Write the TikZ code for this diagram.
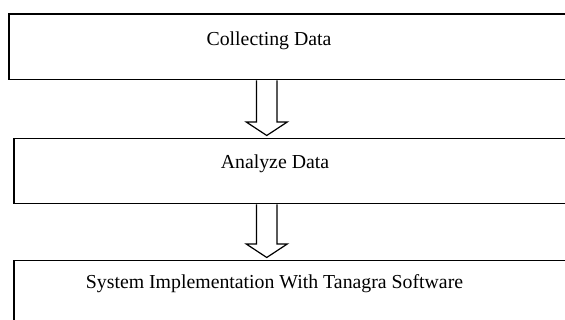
\documentclass[tikz,border=0pt]{standalone}
\usepackage{fontspec}
\setmainfont{Liberation Serif}
\usetikzlibrary{calc}
\tikzset{
  stagebox/.style={draw=black, line width=1.5pt, rectangle, inner sep=0pt, anchor=north west},
  stagetext/.style={font=\fontsize{19.8}{24}\selectfont, inner sep=0pt, anchor=center},
  arrowline/.style={draw=black, line width=1.2pt, fill=white, line join=miter}
}
\newcommand\blockarrow[3]{%
  \draw[arrowline] ($(#2.south -| #1)+(-10.25,0)$) -- ($(#3.north -| #1)+(-10.25,-16)$)
    -- ++(-10.25,0) -- ($(#3.north -| #1)+(0,-2.5)$) -- ($(#3.north -| #1)+(20.5,-16)$)
    -- ++(-10.25,0) -- ($(#2.south -| #1)+(10.25,0)$);}
\begin{document}
\begin{tikzpicture}[x=1pt, y=-1pt]
\useasboundingbox (0,0) rectangle (565,320);
\clip (0,0) rectangle (565,320);
\node[stagebox, minimum width=580pt, minimum height=65.5pt] (box1) at (8,13.5) {};
\node[stagebox, minimum width=580pt, minimum height=65pt] (box2) at (13,138) {};
\node[stagebox, minimum width=580pt, minimum height=80pt] (box3) at (13,260) {};
\node[stagetext] (t1) at (269,41) {Collecting Data};
\node[stagetext] (t2) at (275,164) {Analyze Data};
\node[stagetext] (t3) at (274.5,284) {System Implementation With Tanagra Software};
\coordinate (ax) at (266.75,0);
\blockarrow{ax}{box1}{box2}
\blockarrow{ax}{box2}{box3}
\end{tikzpicture}
\end{document}
